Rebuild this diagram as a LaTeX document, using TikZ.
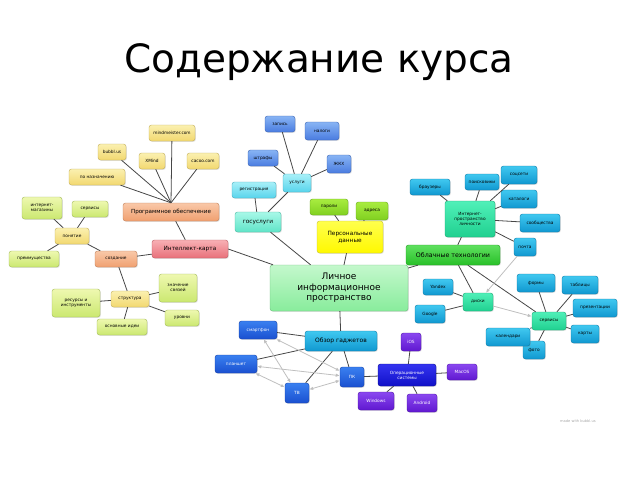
\documentclass[tikz,border=0pt]{standalone}
\usepackage{fontspec}
\setmainfont{DejaVu Sans}
\usetikzlibrary{shadows,arrows.meta}
\definecolor{ytop}{HTML}{FBF0B0}
\definecolor{ybot}{HTML}{F2D870}
\definecolor{otop}{HTML}{F9C8A8}
\definecolor{obot}{HTML}{F0A070}
\definecolor{rtop}{HTML}{F8B0B4}
\definecolor{rbot}{HTML}{E8707A}
\definecolor{ltop}{HTML}{EEF8B0}
\definecolor{lbot}{HTML}{CBE870}
\definecolor{gtop}{HTML}{A8EC40}
\definecolor{gbot}{HTML}{80D020}
\definecolor{btop}{HTML}{88B4F4}
\definecolor{bbot}{HTML}{4A7CE0}
\definecolor{ctop}{HTML}{A8F0F8}
\definecolor{cbot}{HTML}{58D4EC}
\definecolor{mtop}{HTML}{A8F8E8}
\definecolor{mbot}{HTML}{60E4C8}
\definecolor{lptop}{HTML}{C4F8CC}
\definecolor{lpbot}{HTML}{88EC9C}
\definecolor{cltop}{HTML}{60E060}
\definecolor{clbot}{HTML}{28C028}
\definecolor{ttop}{HTML}{50F0B8}
\definecolor{tbot}{HTML}{20D090}
\definecolor{stop}{HTML}{40C8F0}
\definecolor{sbot}{HTML}{1098D0}
\definecolor{dtop}{HTML}{3A80F0}
\definecolor{dbot}{HTML}{1A50D0}
\definecolor{ostop}{HTML}{3434F0}
\definecolor{osbot}{HTML}{1010C8}
\definecolor{ptop}{HTML}{8A48F0}
\definecolor{pbot}{HTML}{6018D0}

\begin{document}
\begin{tikzpicture}
[every node/.style={inner sep=1pt, align=center},
 box/.style={rounded corners=2.5pt, draw=#1, line width=0.4pt, font=\fontsize{4.3}{5}\selectfont,
   drop shadow={opacity=0.25, shadow xshift=0.8pt, shadow yshift=-0.8pt}},
 ybox/.style={box=ybot!80!black, top color=ytop, bottom color=ybot},
 obox/.style={box=obot!80!black, top color=otop, bottom color=obot},
 rbox/.style={box=rbot!80!black, top color=rtop, bottom color=rbot},
 lbox/.style={box=lbot!80!black, top color=ltop, bottom color=lbot},
 gbox/.style={box=gbot!80!black, top color=gtop, bottom color=gbot},
 pdbox/.style={box=yellow!75!black, top color=yellow!70, bottom color=yellow!95!orange},
 bbox/.style={box=bbot!80!black, top color=btop, bottom color=bbot},
 cbox/.style={box=cbot!80!black, top color=ctop, bottom color=cbot},
 mbox/.style={box=mbot!80!black, top color=mtop, bottom color=mbot},
 lpbox/.style={box=lpbot!80!black, top color=lptop, bottom color=lpbot},
 cloudbox/.style={box=clbot!80!black, top color=cltop, bottom color=clbot},
 tbox/.style={box=tbot!80!black, top color=ttop, bottom color=tbot},
 sbox/.style={box=sbot!80!black, top color=stop, bottom color=sbot},
 dbox/.style={box=dbot!80!black, top color=dtop, bottom color=dbot, text=white},
 osbox/.style={box=osbot!70!black, top color=ostop, bottom color=osbot, text=white},
 pbox/.style={box=pbot!80!black, top color=ptop, bottom color=pbot, text=white},
 link/.style={draw=black!72, line width=0.8pt},
 arr/.style={draw=black!25, line width=0.8pt, -{Latex[length=4pt,width=3.5pt]}},
 arrb/.style={draw=black!25, line width=0.8pt, {Latex[length=4pt,width=3.5pt]}-{Latex[length=4pt,width=3.5pt]}}]
\useasboundingbox (0pt,0pt) rectangle (640pt,-480pt);
\node (title) at (319pt, -62pt) {\fontsize{39}{43}\selectfont Содержание курса};
% software
\node (mm) [ybox, minimum width=46pt, minimum height=16pt] at (172pt, -133pt) {mindmeister.com};
\node (bubbl) [ybox, minimum width=28pt, minimum height=16pt] at (112pt, -152pt) {bubbl.us};
\node (xmind) [ybox, minimum width=26pt, minimum height=16pt] at (152pt, -161pt) {XMind};
\node (cacoo) [ybox, minimum width=32pt, minimum height=16pt] at (203pt, -161pt) {cacoo.com};
\node (purp) [ybox, minimum width=56pt, minimum height=16pt] at (97pt, -177pt) {по назначению};
\node (soft) [obox, minimum width=96pt, minimum height=18pt, font=\fontsize{5.6}{6.5}\selectfont] at (171pt, -212pt) {Программное обеспечение};
\node (imap) [rbox, minimum width=76pt, minimum height=18pt, font=\fontsize{5.8}{6.5}\selectfont] at (190pt, -249pt) {Интеллект-карта};
% left
\node (shops) [lbox, minimum width=40pt, minimum height=22pt] at (42pt, -208pt) {интернет-\\магазины};
\node (sites) [lbox, minimum width=36pt, minimum height=16pt] at (90pt, -209pt) {сервисы};
\node (idea) [ybox, minimum width=34pt, minimum height=16pt] at (72pt, -236pt) {понятие};
\node (plus) [lbox, minimum width=50pt, minimum height=16pt] at (34pt, -259pt) {преимущества};
\node (make) [obox, minimum width=42pt, minimum height=16pt] at (116pt, -259pt) {создание};
\node (struct) [ybox, minimum width=38pt, minimum height=16pt] at (130pt, -299pt) {структура};
\node (res) [lbox, minimum width=48pt, minimum height=28pt] at (76pt, -303pt) {ресурсы и\\инструменты};
\node (links) [lbox, minimum width=38pt, minimum height=28pt] at (178pt, -288pt) {значение\\связей};
\node (levels) [lbox, minimum width=34pt, minimum height=16pt] at (182pt, -318pt) {уровни};
\node (main) [lbox, minimum width=50pt, minimum height=16pt] at (122pt, -327pt) {основные идеи};
% gosuslugi
\node (rec) [bbox, minimum width=30pt, minimum height=16pt] at (280pt, -124pt) {запись};
\node (tax) [bbox, minimum width=34pt, minimum height=18pt] at (322pt, -131pt) {налоги};
\node (fine) [bbox, minimum width=30pt, minimum height=16pt] at (263pt, -158pt) {штрафы};
\node (zhkh) [bbox, minimum width=24pt, minimum height=18pt] at (339pt, -164pt) {ЖКХ};
\node (serv) [cbox, minimum width=28pt, minimum height=18pt] at (297pt, -183pt) {услуги};
\node (reg) [cbox, minimum width=44pt, minimum height=16pt] at (254pt, -190pt) {регистрация};
\node (gos) [mbox, minimum width=46pt, minimum height=20pt, font=\fontsize{5.8}{6.5}\selectfont] at (258pt, -222pt) {госуслуги};
\node (pass) [gbox, minimum width=38pt, minimum height=16pt] at (329pt, -207pt) {пароли};
\node (addr) [gbox, minimum width=32pt, minimum height=18pt] at (372pt, -211pt) {адреса};
\node (pers) [pdbox, minimum width=66pt, minimum height=32pt, font=\fontsize{5.8}{7}\selectfont] at (350pt, -237pt) {Персональные\\данные};
% center
\node (lip) [lpbox, minimum width=138pt, minimum height=46pt, font=\fontsize{9}{10.5}\selectfont] at (339pt, -288pt) {Личное\\информационное\\пространство};
% cloud
\node (cloud) [cloudbox, minimum width=94pt, minimum height=20pt, font=\fontsize{6.3}{7}\selectfont] at (453pt, -255pt) {Облачные технологии};
\node (inet) [tbox, minimum width=50pt, minimum height=36pt] at (470pt, -219pt) {Интернет-\\пространство\\личности};
\node (brow) [sbox, minimum width=40pt, minimum height=16pt] at (430pt, -187pt) {браузеры};
\node (srch) [sbox, minimum width=34pt, minimum height=16pt] at (482pt, -182pt) {поисковики};
\node (soc) [sbox, minimum width=36pt, minimum height=18pt] at (519pt, -175pt) {соцсети};
\node (cat) [sbox, minimum width=36pt, minimum height=18pt] at (519pt, -199pt) {каталоги};
\node (comm) [sbox, minimum width=40pt, minimum height=18pt] at (540pt, -223pt) {сообщества};
\node (mail) [sbox, minimum width=22pt, minimum height=18pt] at (525pt, -247pt) {почта};
\node (disk) [tbox, minimum width=30pt, minimum height=18pt] at (478pt, -302pt) {диски};
\node (yand) [sbox, minimum width=30pt, minimum height=16pt] at (438pt, -287pt) {Yandex};
\node (goog) [sbox, minimum width=30pt, minimum height=18pt] at (430pt, -314pt) {Google};
\node (svc) [tbox, minimum width=34pt, minimum height=18pt] at (549pt, -321pt) {сервисы};
\node (form) [sbox, minimum width=38pt, minimum height=18pt] at (536pt, -283pt) {формы};
\node (tab) [sbox, minimum width=36pt, minimum height=18pt] at (580pt, -285pt) {таблицы};
\node (pres) [sbox, minimum width=44pt, minimum height=18pt] at (595pt, -308pt) {презентации};
\node (maps) [sbox, minimum width=28pt, minimum height=18pt] at (585pt, -334pt) {карты};
\node (foto) [sbox, minimum width=22pt, minimum height=18pt] at (534pt, -350pt) {фото};
\node (cal) [sbox, minimum width=44pt, minimum height=18pt] at (508pt, -337pt) {календари};
% gadgets
\node (gad) [sbox, minimum width=72pt, minimum height=20pt, font=\fontsize{6}{7}\selectfont] at (341pt, -341pt) {Обзор гаджетов};
\node (phone) [dbox, minimum width=38pt, minimum height=18pt] at (258pt, -330pt) {смартфон};
\node (tab2) [dbox, minimum width=42pt, minimum height=18pt] at (236pt, -364pt) {планшет};
\node (pc) [dbox, minimum width=24pt, minimum height=20pt] at (352pt, -377pt) {ПК};
\node (tv) [dbox, minimum width=24pt, minimum height=20pt] at (297pt, -393pt) {ТВ};
\node (os) [osbox, minimum width=58pt, minimum height=22pt] at (407pt, -375pt) {Операционные\\системы};
\node (ios) [pbox, minimum width=20pt, minimum height=18pt] at (411pt, -342pt) {iOS};
\node (mac) [pbox, minimum width=30pt, minimum height=16pt] at (462pt, -372pt) {MacOS};
\node (win) [pbox, minimum width=36pt, minimum height=18pt] at (376pt, -401pt) {Windows};
\node (andr) [pbox, minimum width=30pt, minimum height=18pt] at (422pt, -403pt) {Android};
\node (credit) [text=black!35, font=\fontsize{3.6}{4}\selectfont] at (578pt, -421pt) {made with bubbl.us};
% links
\foreach \s in {mm, bubbl, xmind, cacoo, purp} \draw [link] (\s) -- (soft.north);
\draw [link] (soft) -- (imap);
\draw [link] (imap) -- (make);
\draw [link] (imap.east) -- (lip);
\draw [link] (make) -- (idea);
\draw [link] (make) -- (struct);
\draw [link] (idea) -- (shops);
\draw [link] (idea) -- (sites);
\draw [link] (idea) -- (plus);
\foreach \s in {res, links, levels, main} \draw [link] (struct) -- (\s);
\foreach \s in {rec, tax, fine, zhkh} \draw [link] (serv) -- (\s);
\draw [link] (gos) -- (serv);
\draw [link] (gos) -- (reg);
\draw [link] (gos) -- (lip);
\draw [link] (pers) -- (pass);
\draw [link] (pers) -- (addr);
\draw [link] (pers) -- (lip);
\draw [link] (cloud) -- (lip);
\draw [link] (cloud) -- (inet);
\foreach \s in {brow, srch, soc, cat, comm, mail} \draw [link] (inet) -- (\s);
\draw [link] (cloud) -- (disk);
\draw [link] (cloud) -- (svc);
\draw [link] (disk) -- (yand);
\draw [link] (disk) -- (goog);
\foreach \s in {form, tab, pres, maps, foto, cal} \draw [link] (svc) -- (\s);
\draw [arr] (mail) -- (disk);
\draw [arr] (disk) -- (svc);
\draw [link] (lip) -- (gad);
\foreach \s in {phone, tab2, pc, tv} \draw [link] (gad) -- (\s);
\draw [link] (pc) -- (os);
\foreach \s in {ios, mac, win, andr} \draw [link] (os) -- (\s);
\draw [arrb] (phone) -- (pc);
\draw [arrb] (phone) -- (tv);
\draw [arrb] (tab2) -- (pc);
\draw [arrb] (tab2) -- (tv);
\draw [arrb] (tv) -- (pc);
\end{tikzpicture}
\end{document}
